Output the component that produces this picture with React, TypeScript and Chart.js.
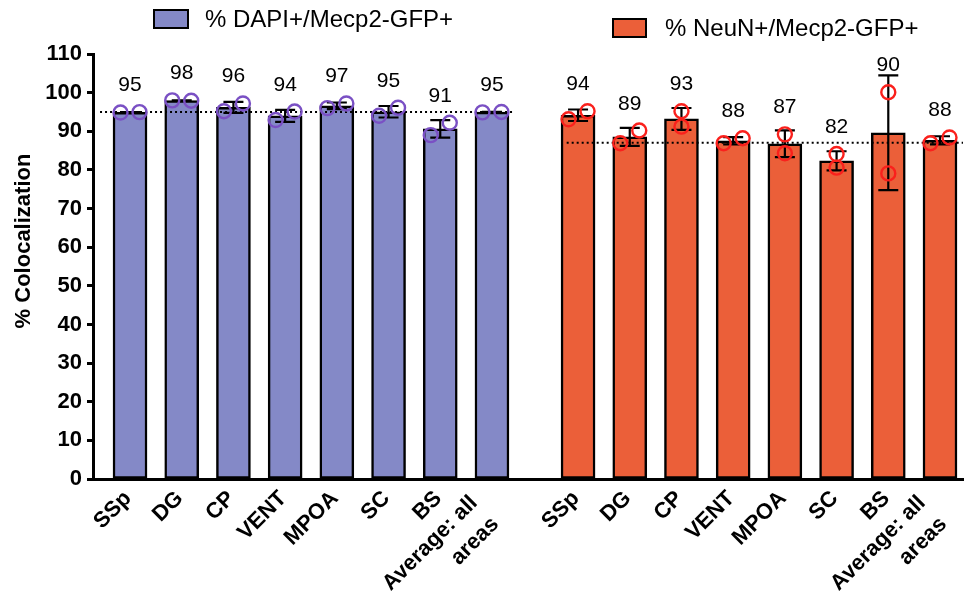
import { useEffect, useRef } from "react";
import { Chart, registerables } from "chart.js";

Chart.register(...registerables);

// ---- data ----
const CATEGORIES: string[][] = [["SSp"], ["DG"], ["CP"], ["VENT"], ["MPOA"], ["SC"], ["BS"], ["Average: all", "areas"]];
const SERIES_NAMES = ["% DAPI+/Mecp2-GFP+", "% NeuN+/Mecp2-GFP+"];

const DAPI_MEAN = [94.9, 97.95, 96.2, 94.0, 96.6, 95.05, 90.6, 94.95];
const DAPI_REP1 = [94.85, 98.0, 95.2, 92.9, 96.0, 94.0, 89.0, 94.9];
const DAPI_REP2 = [94.95, 97.9, 97.2, 95.1, 97.2, 96.1, 92.2, 95.0];
const DAPI_LABELS = ["95", "98", "96", "94", "97", "95", "91", "95"];

const NEUN_MEAN = [94.15, 88.55, 93.2, 87.55, 86.75, 82.35, 89.6, 87.65];
const NEUN_REP1 = [93.1, 86.9, 95.2, 86.9, 89.2, 84.1, 100.1, 86.9];
const NEUN_REP2 = [95.2, 90.2, 91.2, 88.2, 84.3, 80.6, 79.1, 88.4];
const NEUN_LABELS = ["94", "89", "93", "88", "87", "82", "90", "88"];

const REFERENCE_LINES = [95.0, 87.0];

const Y_MIN = 0;
const Y_MAX = 110;
const Y_STEP = 10;

// ---- layout / style ----
const GROUP_START = [0, 8.665];
const X_MIN = -0.716;
const X_MAX = 16.11;
const BLUE = "rgb(132,137,199)";
const ORANGE = "rgb(235,95,57)";
const BLUE_PT = "rgb(122,80,196)";
const ORANGE_PT = "rgb(250,32,28)";
const FONT = "'Liberation Sans', Arial, Helvetica, sans-serif";

const groups = [
  { name: SERIES_NAMES[0], mean: DAPI_MEAN, r1: DAPI_REP1, r2: DAPI_REP2, labels: DAPI_LABELS, fill: BLUE, pt: BLUE_PT, ref: REFERENCE_LINES[0], refSpan: [-0.58, 0.39] },
  { name: SERIES_NAMES[1], mean: NEUN_MEAN, r1: NEUN_REP1, r2: NEUN_REP2, labels: NEUN_LABELS, fill: ORANGE, pt: ORANGE_PT, ref: REFERENCE_LINES[1], refSpan: [-0.22, 10] },
];

const positions = (g: number) => CATEGORIES.map((_, i) => GROUP_START[g] + i);

const overlay = {
  id: "overlay",
  afterDatasetsDraw(chart: any) {
    const ctx: CanvasRenderingContext2D = chart.ctx;
    const xs = chart.scales.x;
    const ys = chart.scales.y;
    const ca = chart.chartArea;
    const R = 7;
    ctx.save();

    groups.forEach((g, gi) => {
      const pos = positions(gi);
      // reference dotted line
      const xa = xs.getPixelForValue(pos[0] + g.refSpan[0]);
      const xb = Math.min(ca.right, xs.getPixelForValue(pos[pos.length - 1] + g.refSpan[1]));
      ctx.beginPath();
      ctx.setLineDash([2, 3]);
      ctx.lineWidth = 2;
      ctx.strokeStyle = "#000";
      ctx.moveTo(xa, ys.getPixelForValue(g.ref));
      ctx.lineTo(xb, ys.getPixelForValue(g.ref));
      ctx.stroke();
      ctx.setLineDash([]);

      pos.forEach((p, i) => {
        const cx = xs.getPixelForValue(p);
        const a = g.r1[i];
        const b = g.r2[i];
        const sd = Math.abs(a - b) / Math.SQRT2;
        const m = g.mean[i];
        const yt = ys.getPixelForValue(m + sd);
        const yb = ys.getPixelForValue(m - sd);
        // error bar
        ctx.strokeStyle = "#000";
        ctx.lineWidth = 2.2;
        ctx.beginPath();
        ctx.moveTo(cx, yt);
        ctx.lineTo(cx, yb);
        ctx.moveTo(cx - 10, yt);
        ctx.lineTo(cx + 10, yt);
        ctx.moveTo(cx - 10, yb);
        ctx.lineTo(cx + 10, yb);
        ctx.stroke();
        // points
        const ya = ys.getPixelForValue(a);
        const yb2 = ys.getPixelForValue(b);
        const spread = Math.abs(ya - yb2) < 2 * R - 1 ? 9.5 : 0;
        ctx.strokeStyle = g.pt;
        ctx.lineWidth = 2.4;
        [[cx - spread, ya], [cx + spread, yb2]].forEach(([px, py]) => {
          ctx.beginPath();
          ctx.arc(px, py, R, 0, Math.PI * 2);
          ctx.stroke();
        });
        // value label
        const topY = Math.min(ya, yb2) - R - 14;
        ctx.fillStyle = "#000";
        ctx.font = `21px ${FONT}`;
        ctx.textAlign = "center";
        ctx.textBaseline = "alphabetic";
        ctx.fillText(g.labels[i], cx, topY);

        // x tick label
        const lines = CATEGORIES[i];
        ctx.save();
        ctx.translate(cx - 2, ca.bottom + 16);
        ctx.rotate(-Math.PI / 4);
        ctx.font = `bold 22px ${FONT}`;
        ctx.textAlign = "right";
        ctx.textBaseline = "middle";
        const multi = lines.length > 1;
        lines.forEach((ln, li) => {
          const along = multi ? -14.5 : 0;
          const perp = multi ? -8 + 30 * li : 0;
          ctx.fillText(ln, along, perp);
        });
        ctx.restore();
      });
    });

    // legend
    const legendItems = [
      { box: [154, 10, 34, 18], tx: 205, ty: 27 },
      { box: [613, 19, 33, 18], tx: 665, ty: 35.5 },
    ];
    legendItems.forEach((it, gi) => {
      ctx.fillStyle = groups[gi].fill;
      ctx.fillRect(it.box[0], it.box[1], it.box[2], it.box[3]);
      ctx.strokeStyle = "#000";
      ctx.lineWidth = 2;
      ctx.strokeRect(it.box[0], it.box[1], it.box[2], it.box[3]);
      ctx.fillStyle = "#000";
      ctx.font = `24px ${FONT}`;
      ctx.textAlign = "left";
      ctx.textBaseline = "alphabetic";
      ctx.fillText(groups[gi].name, it.tx, it.ty);
    });

    // y axis title
    ctx.save();
    ctx.translate(30, 241);
    ctx.rotate(-Math.PI / 2);
    ctx.font = `bold 22px ${FONT}`;
    ctx.fillStyle = "#000";
    ctx.textAlign = "center";
    ctx.textBaseline = "alphabetic";
    ctx.fillText("% Colocalization", 0, 0);
    ctx.restore();

    ctx.restore();
  },
};

export default function App() {
  const ref = useRef<HTMLCanvasElement | null>(null);
  useEffect(() => {
    if (!ref.current) return;
    const chart = new Chart(ref.current, {
      type: "bar",
      data: {
        datasets: groups.map((g, gi) => ({
          label: g.name,
          data: g.mean.map((v, i) => ({ x: positions(gi)[i], y: v })),
          backgroundColor: g.fill,
          borderColor: "#000",
          borderWidth: 2.5,
          borderSkipped: false,
          grouped: false,
          barThickness: 34,
        })),
      },
      options: {
        animation: false,
        responsive: true,
        maintainAspectRatio: false,
        layout: { padding: { top: 54, right: 1, left: 0, bottom: 0 } },
        plugins: { legend: { display: false }, tooltip: { enabled: false } },
        scales: {
          x: {
            type: "linear",
            offset: false,
            min: X_MIN,
            max: X_MAX,
            grid: { display: false, offset: false },
            ticks: { display: false },
            border: { color: "#000", width: 3 },
            afterBuildTicks: (s: any) => {
              s.ticks = [...positions(0), ...positions(1)].map((v) => ({ value: v }));
            },
            afterFit: (s: any) => {
              s.height = 123;
            },
          },
          y: {
            min: Y_MIN,
            max: Y_MAX,
            ticks: { stepSize: Y_STEP, color: "#000", padding: 5, font: { family: FONT, size: 22, weight: "bold" } },
            grid: { drawOnChartArea: false, drawTicks: true, tickLength: 6, tickWidth: 3, tickColor: "#000" },
            border: { color: "#000", width: 3 },
            afterFit: (s: any) => {
              s.width = 93;
            },
          },
        },
      } as any,
      plugins: [overlay],
    });
    return () => chart.destroy();
  }, []);
  return (
    <div style={{ position: "fixed", left: 0, top: 0, width: 964, height: 602, background: "#fff" }}>
      <canvas ref={ref} />
    </div>
  );
}
